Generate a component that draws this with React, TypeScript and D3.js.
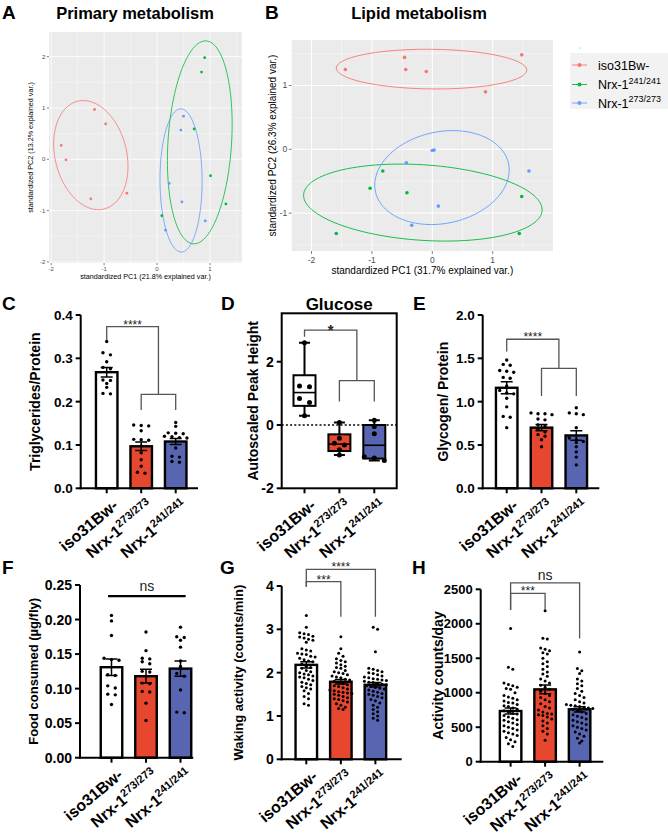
import React from 'react';
import * as d3 from 'd3';

const FONT = "'Liberation Sans', Arial, Helvetica, sans-serif";

// ---------------- PCA panels (A, B) ----------------
const pcaBase = ['iso31Bw-', 'Nrx-1', 'Nrx-1'];
const pcaSup = ['', '241/241', '273/273'];
const pcaColors = ['#F8766D', '#00BA38', '#619CFF'];

const primaryIso = [[-1.81, 0.27], [-1.72, -0.01], [-1.18, 0.97], [-0.97, 0.69], [-1.25, -0.77], [-0.57, -0.66]];
const primary241 = [[0.90, 1.98], [0.84, 1.70], [0.70, 0.59], [1.01, -0.32], [1.30, -0.87], [0.09, -1.10]];
const primary273 = [[0.50, 0.84], [0.45, 0.57], [0.47, -0.83], [0.91, -1.20], [0.16, -1.38], [0.23, -0.47]];

const lipidIso = [[-1.44, 1.25], [-0.46, 1.44], [-0.44, 1.25], [-0.10, 1.22], [1.48, 1.48], [0.88, 0.90]];
const lipid241 = [[-0.82, -0.34], [-1.03, -0.61], [-0.42, -0.68], [-1.59, -1.32], [1.48, -0.74], [1.44, -1.32]];
const lipid273 = [[0.0, -0.02], [0.03, -0.01], [-0.43, -0.21], [0.10, -0.89], [-0.34, -1.19], [1.60, -0.34]];

const pcaTicks = [-2, -1, 0, 1, 2];
const pcaMinor = [-1.5, -0.5, 0.5, 1.5];

// ---------------- bottom panels ----------------
const groupBase = ['iso31Bw-', 'Nrx-1', 'Nrx-1'];
const groupSup = ['', '273/273', '241/241'];
const groupFill = ['#FFFFFF', '#E8472F', '#5866B2'];

// C: Triglycerides/Protein
const trigIso = [0.339, 0.313, 0.308, 0.292, 0.279, 0.276, 0.250, 0.249, 0.242, 0.233, 0.219, 0.218];
const trigRed = [0.146, 0.145, 0.144, 0.133, 0.113, 0.112, 0.111, 0.098, 0.082, 0.066, 0.051, 0.037, 0.035];
const trigBlue = [0.152, 0.143, 0.128, 0.127, 0.126, 0.120, 0.119, 0.117, 0.116, 0.093, 0.074, 0.072, 0.062, 0.060];
const trigMean = [0.268, 0.097, 0.108];
const trigSem = [0.011, 0.010, 0.007];
const trigTicks = [0, 0.1, 0.2, 0.3, 0.4];

// D: Glucose (box plot)
const glucIso = [2.6, 1.23, 1.21, 0.84, 0.71, 0.29];
const glucRed = [0.08, -0.42, -0.58, -0.63, -0.78, -0.95];
const glucBlue = [0.15, -0.05, -0.28, -1.0, -1.04, -1.12];
const glucTicks = [-2, 0, 2];

// E: Glycogen/ Protein
const glycIso = [1.48, 1.43, 1.42, 1.36, 1.35, 1.34, 1.28, 1.27, 1.18, 1.13, 1.10, 1.09, 1.04, 0.94, 0.83, 0.82, 0.70];
const glycRed = [0.87, 0.86, 0.86, 0.85, 0.80, 0.79, 0.73, 0.72, 0.68, 0.65, 0.62, 0.60, 0.56, 0.48];
const glycBlue = [0.93, 0.87, 0.86, 0.85, 0.70, 0.58, 0.56, 0.54, 0.53, 0.48, 0.42, 0.36, 0.27];
const glycMean = [1.16, 0.70, 0.61];
const glycSem = [0.07, 0.035, 0.055];
const glycTicks = [0, 0.5, 1.0, 1.5, 2.0];

// F: Food consumed
const foodIso = [0.206, 0.198, 0.177, 0.144, 0.142, 0.141, 0.120, 0.119, 0.104, 0.101, 0.092, 0.091, 0.077];
const foodRed = [0.182, 0.155, 0.144, 0.143, 0.139, 0.136, 0.125, 0.124, 0.108, 0.107, 0.096, 0.095, 0.079, 0.054];
const foodBlue = [0.189, 0.175, 0.174, 0.170, 0.160, 0.140, 0.132, 0.122, 0.118, 0.098, 0.066, 0.065];
const foodMean = [0.131, 0.118, 0.129];
const foodSem = [0.012, 0.010, 0.011];
const foodTicks = [0, 0.05, 0.10, 0.15, 0.20, 0.25];

// G: Waking activity
const wakeIso = [3.32, 3.05, 2.92, 2.90, 2.88, 2.84, 2.82, 2.80, 2.77, 2.75, 2.70, 2.55, 2.52, 2.50, 2.45, 2.43, 2.42, 2.38, 2.36, 2.33, 2.30, 2.27, 2.25, 2.20, 2.15, 2.12, 2.10, 2.05, 2.02, 2.00, 1.97, 1.95, 1.92, 1.90, 1.88, 1.85, 1.82, 1.78, 1.75, 1.72, 1.68, 1.65, 1.62, 1.58, 1.52, 1.45, 1.40, 1.28, 1.25];
const wakeRed = [2.83, 2.55, 2.45, 2.38, 2.32, 2.28, 2.25, 2.22, 2.18, 2.15, 2.12, 2.10, 2.05, 2.02, 2.00, 1.98, 1.95, 1.92, 1.90, 1.88, 1.85, 1.83, 1.80, 1.78, 1.75, 1.72, 1.70, 1.68, 1.65, 1.62, 1.60, 1.58, 1.56, 1.55, 1.53, 1.52, 1.50, 1.48, 1.45, 1.42, 1.40, 1.38, 1.35, 1.32, 1.28, 1.25, 1.20, 1.17, 1.15];
const wakeBlue = [3.05, 3.00, 2.48, 2.10, 2.08, 2.05, 2.02, 2.00, 1.98, 1.95, 1.92, 1.90, 1.88, 1.86, 1.85, 1.83, 1.82, 1.80, 1.78, 1.77, 1.75, 1.73, 1.72, 1.70, 1.68, 1.66, 1.64, 1.62, 1.60, 1.57, 1.55, 1.52, 1.50, 1.48, 1.45, 1.42, 1.38, 1.35, 1.30, 1.25, 1.20, 1.15, 1.10, 1.05, 1.00, 0.95, 0.90];
const wakeMean = [2.18, 1.79, 1.72];
const wakeSem = [0.07, 0.05, 0.05];
const wakeTicks = [0, 1, 2, 3, 4];

// H: Activity counts/day
const actIso = [1930, 1370, 1340, 1140, 1120, 1100, 1080, 1060, 1050, 1000, 960, 940, 920, 900, 880, 860, 850, 830, 810, 800, 780, 760, 740, 720, 700, 690, 670, 650, 630, 610, 600, 580, 560, 540, 520, 500, 480, 460, 440, 420, 400, 380, 350, 320, 290, 260, 220];
const actRed = [2190, 1790, 1780, 1650, 1630, 1610, 1580, 1560, 1500, 1450, 1420, 1380, 1340, 1300, 1270, 1240, 1200, 1170, 1140, 1110, 1080, 1050, 1020, 990, 960, 930, 900, 870, 840, 800, 780, 750, 720, 700, 690, 680, 670, 650, 620, 590, 560, 520, 480, 440, 400, 310];
const actBlue = [1590, 1350, 1320, 1280, 1200, 1170, 1130, 1100, 1060, 1020, 990, 960, 930, 900, 870, 850, 830, 820, 810, 800, 790, 780, 770, 760, 740, 720, 700, 680, 660, 640, 620, 600, 580, 560, 540, 520, 500, 480, 460, 430, 400, 370, 340, 300, 270];
const actMean = [735, 1049, 760];
const actSem = [45, 62, 38];
const actTicks = [0, 500, 1000, 1500, 2000, 2500];

// ---------------- helpers ----------------
function ellipseRing(pts: number[][]) {
  const n = pts.length;
  const mx = d3.mean(pts, (p) => p[0]) as number;
  const my = d3.mean(pts, (p) => p[1]) as number;
  let sxx = 0, syy = 0, sxy = 0;
  pts.forEach((p) => {
    sxx += (p[0] - mx) ** 2;
    syy += (p[1] - my) ** 2;
    sxy += (p[0] - mx) * (p[1] - my);
  });
  sxx /= n - 1; syy /= n - 1; sxy /= n - 1;
  const a = Math.sqrt(sxx);
  const b = sxy / a;
  const c = Math.sqrt(Math.max(syy - b * b, 1e-9));
  const ed = Math.sqrt(-2 * Math.log(1 - 0.68));
  return d3.range(121).map((i) => {
    const t = (2 * Math.PI * i) / 120;
    const u = Math.cos(t), v = Math.sin(t);
    return [mx + ed * u * a, my + ed * (u * b + v * c)];
  });
}

function swarmOffsets(vals: number[], y: (v: number) => number, rowH: number, gap: number) {
  const idx = vals.map((_, i) => i).sort((a, b) => vals[b] - vals[a]);
  const out = new Array(vals.length).fill(0);
  let row: number[] = [];
  let rowStart = -Infinity;
  const flush = () => {
    row.forEach((id, k) => { out[id] = (k - (row.length - 1) / 2) * gap; });
  };
  for (const id of idx) {
    const py = y(vals[id]);
    if (row.length && py - rowStart > rowH) { flush(); row = []; }
    if (!row.length) rowStart = py;
    row.push(id);
  }
  flush();
  return out;
}

function quart(sorted: number[], p: number) {
  const n = sorted.length;
  const pos = p * (n + 1);
  if (pos <= 1) return sorted[0];
  if (pos >= n) return sorted[n - 1];
  const lo = Math.floor(pos);
  const f = pos - lo;
  return sorted[lo - 1] + f * (sorted[lo] - sorted[lo - 1]);
}

// ---------------- PCA panel ----------------
function PcaPanel({ cfg, sets }: { cfg: any; sets: number[][][] }) {
  const xs = d3.scaleLinear().domain(cfg.xDomain).range([cfg.left, cfg.right]);
  const ys = d3.scaleLinear().domain(cfg.yDomain).range([cfg.bottom, cfg.top]);
  const inX = (v: number) => v >= cfg.xDomain[0] && v <= cfg.xDomain[1];
  const inY = (v: number) => v >= cfg.yDomain[0] && v <= cfg.yDomain[1];
  const line = d3.line<number[]>().x((d) => xs(d[0])).y((d) => ys(d[1]));
  return (
    <g fontFamily={FONT}>
      <rect x={cfg.left} y={cfg.top} width={cfg.right - cfg.left} height={cfg.bottom - cfg.top} fill="#EBEBEB" />
      {pcaMinor.filter(inX).map((v) => (
        <line key={'mx' + v} x1={xs(v)} x2={xs(v)} y1={cfg.top} y2={cfg.bottom} stroke="#fff" strokeWidth={cfg.minorW} />
      ))}
      {pcaMinor.filter(inY).map((v) => (
        <line key={'my' + v} y1={ys(v)} y2={ys(v)} x1={cfg.left} x2={cfg.right} stroke="#fff" strokeWidth={cfg.minorW} />
      ))}
      {pcaTicks.filter(inX).map((v) => (
        <line key={'Mx' + v} x1={xs(v)} x2={xs(v)} y1={cfg.top} y2={cfg.bottom} stroke="#fff" strokeWidth={cfg.majorW} />
      ))}
      {pcaTicks.filter(inY).map((v) => (
        <line key={'My' + v} y1={ys(v)} y2={ys(v)} x1={cfg.left} x2={cfg.right} stroke="#fff" strokeWidth={cfg.majorW} />
      ))}
      {sets.map((pts, i) => (
        <path key={'e' + i} d={line(ellipseRing(pts)) as string} fill="none" stroke={pcaColors[i]} strokeWidth={cfg.ellW} />
      ))}
      {sets.map((pts, i) =>
        pts.map((p, k) => <circle key={'p' + i + '-' + k} cx={xs(p[0])} cy={ys(p[1])} r={cfg.ptR} fill={pcaColors[i]} />)
      )}
      {pcaTicks.filter(inX).map((v) => (
        <g key={'tx' + v}>
          <line x1={xs(v)} x2={xs(v)} y1={cfg.bottom} y2={cfg.bottom + cfg.tickLen} stroke="#333" strokeWidth={0.6} />
          <text x={xs(v)} y={cfg.bottom + cfg.tickLen + cfg.tickSize} textAnchor="middle" fontSize={cfg.tickSize} fill="#4D4D4D">{String(v)}</text>
        </g>
      ))}
      {pcaTicks.filter(inY).map((v) => (
        <g key={'ty' + v}>
          <line x1={cfg.left - cfg.tickLen} x2={cfg.left} y1={ys(v)} y2={ys(v)} stroke="#333" strokeWidth={0.6} />
          <text x={cfg.left - cfg.tickLen - 1.5} y={ys(v)} dy="0.35em" textAnchor="end" fontSize={cfg.tickSize} fill="#4D4D4D">{String(v)}</text>
        </g>
      ))}
      <text x={(cfg.left + cfg.right) / 2} y={cfg.xTitleY} textAnchor="middle" fontSize={cfg.titleSize} fill="#000">{cfg.xTitle}</text>
      <text transform={`translate(${cfg.yTitleX},${(cfg.top + cfg.bottom) / 2}) rotate(-90)`} textAnchor="middle" fontSize={cfg.titleSize} fill="#000">{cfg.yTitle}</text>
      <text x={cfg.headX} y={19} textAnchor="middle" fontSize={16.5} fontWeight="bold">{cfg.head}</text>
      <text x={cfg.letterX} y={19} fontSize={19} fontWeight="bold">{cfg.letter}</text>
    </g>
  );
}

function Legend() {
  const rows = [65, 84.5, 103];
  return (
    <g fontFamily={FONT}>
      <rect x={570} y={53} width={98} height={56} fill="#F2F2F2" />
      <circle cx={580} cy={48} r={0.6} fill="#999" />
      {pcaBase.map((b, i) => (
        <g key={i}>
          <line x1={572} x2={587} y1={rows[i]} y2={rows[i]} stroke={pcaColors[i]} strokeWidth={0.9} />
          <circle cx={579.5} cy={rows[i]} r={2} fill={pcaColors[i]} />
          <text x={598} y={rows[i]} dy="0.36em" fontSize={12.5} fill="#000">
            <tspan>{b}</tspan>
            {pcaSup[i] ? <tspan fontSize={9} dy={-5.5}>{pcaSup[i]}</tspan> : null}
          </text>
        </g>
      ))}
    </g>
  );
}

// ---------------- shared pieces ----------------
function XLabels({ centers, yBase }: { centers: number[]; yBase: number }) {
  return (
    <g>
      {groupBase.map((b, i) => (
        <text key={i} transform={`translate(${centers[i] + 5},${yBase + 10}) rotate(-40)`} dy="0.72em" textAnchor="end" fontSize={16} fontWeight="bold" fontFamily={FONT}>
          <tspan>{b}</tspan>
          {groupSup[i] ? <tspan fontSize={11} dy={-6}>{groupSup[i]}</tspan> : null}
        </text>
      ))}
    </g>
  );
}

function Brackets({ list, cx, y }: { list: any[]; cx: (t: number) => number; y: (v: number) => number }) {
  return (
    <g>
      {list.map((b, i) => {
        const xa = cx(b.a), xb = cx(b.b), yy = y(b.y);
        return (
          <g key={i}>
            <path d={`M${xa},${y(b.la)}V${yy}H${xb}V${y(b.lb)}`} fill="none" stroke={b.thick ? '#000' : '#555'} strokeWidth={b.thick ? 2.2 : 1.3} />
            {b.label ? (
              <text x={(xa + xb) / 2 + (b.dx || 0)} y={yy - b.lift} textAnchor="middle" fontSize={b.size} fontWeight={b.bold ? 'bold' : 'normal'} fill="#222" fontFamily={FONT}>{b.label}</text>
            ) : null}
          </g>
        );
      })}
    </g>
  );
}

function YAxisLabels({ cfg, y }: { cfg: any; y: (v: number) => number }) {
  return (
    <g>
      {cfg.ticks.map((t: number) => (
        <g key={t}>
          <line x1={cfg.x0 - 5} x2={cfg.x0} y1={y(t)} y2={y(t)} stroke="#000" strokeWidth={2} />
          <text x={cfg.x0 - 8} y={y(t)} dy="0.36em" textAnchor="end" fontSize={cfg.tickSize || 13.5} fontWeight="bold" fontFamily={FONT}>{cfg.fmt(t)}</text>
        </g>
      ))}
      <text transform={`translate(${cfg.yLabelX},${(cfg.yTop + cfg.yBottom) / 2}) rotate(-90)`} dy="0.36em" textAnchor="middle" fontSize={cfg.yLabelSize} fontWeight="bold" fontFamily={FONT}>{cfg.yLabel}</text>
      <text x={cfg.letterX} y={cfg.letterY} fontSize={19} fontWeight="bold" fontFamily={FONT}>{cfg.letter}</text>
    </g>
  );
}

// ---------------- bar panel ----------------
function BarPanel({ cfg }: { cfg: any }) {
  const y = d3.scaleLinear().domain(cfg.domain).range([cfg.yBottom, cfg.yTop]);
  const x = d3.scalePoint<number>().domain([0, 1, 2]).range([cfg.c0, cfg.c1]);
  const cx = (t: number) => cfg.c0 + (t * (cfg.c1 - cfg.c0)) / 2;
  const bw = 21.5;
  const cap = 6;
  const centers = [0, 1, 2].map((i) => x(i) as number);
  return (
    <g>
      {cfg.means.map((m: number, i: number) => (
        <rect key={'b' + i} x={centers[i] - bw / 2} y={y(m)} width={bw} height={y(0) - y(m)} fill={groupFill[i]} stroke="#000" strokeWidth={2.4} />
      ))}
      {cfg.values.map((vals: number[], i: number) => {
        const off = swarmOffsets(vals, y, cfg.rowH, cfg.gap);
        return vals.map((v, k) => <circle key={'d' + i + '-' + k} cx={centers[i] + off[k]} cy={y(v)} r={cfg.dotR} fill="#000" />);
      })}
      {cfg.means.map((m: number, i: number) => {
        const hi = y(m + cfg.sems[i]), lo = y(m - cfg.sems[i]);
        return (
          <path key={'e' + i} d={`M${centers[i]},${lo}V${hi}M${centers[i] - cap},${hi}H${centers[i] + cap}M${centers[i] - cap},${lo}H${centers[i] + cap}`} stroke="#000" strokeWidth={1.5} fill="none" />
        );
      })}
      <line x1={cfg.x0} x2={cfg.x0} y1={cfg.yBottom + 1} y2={cfg.yTop} stroke="#000" strokeWidth={2} />
      <line x1={cfg.x0 - 1} x2={cfg.x1} y1={cfg.yBottom} y2={cfg.yBottom} stroke="#000" strokeWidth={2} />
      {centers.map((c, i) => (
        <line key={'xt' + i} x1={c} x2={c} y1={cfg.yBottom} y2={cfg.yBottom + 5} stroke="#000" strokeWidth={2} />
      ))}
      <YAxisLabels cfg={cfg} y={y} />
      <XLabels centers={centers} yBase={cfg.yBottom} />
      <Brackets list={cfg.brackets} cx={cx} y={y} />
    </g>
  );
}

// ---------------- box panel (D) ----------------
function BoxPanel({ cfg }: { cfg: any }) {
  const y = d3.scaleLinear().domain(cfg.domain).range([cfg.yBottom, cfg.yTop]);
  const x = d3.scalePoint<number>().domain([0, 1, 2]).range([cfg.c0, cfg.c1]);
  const cx = (t: number) => cfg.c0 + (t * (cfg.c1 - cfg.c0)) / 2;
  const centers = [0, 1, 2].map((i) => x(i) as number);
  const bw = 22;
  const cap = 5.5;
  return (
    <g>
      <line x1={cfg.x0} x2={cfg.x1} y1={y(0)} y2={y(0)} stroke="#000" strokeWidth={1.6} strokeDasharray="2,2.2" />
      {cfg.values.map((vals: number[], i: number) => {
        const s = [...vals].sort((a, b) => a - b);
        const q1 = quart(s, 0.25), q2 = quart(s, 0.5), q3 = quart(s, 0.75);
        const mn = s[0], mx = s[s.length - 1];
        const c = centers[i];
        return (
          <g key={'bx' + i}>
            <path d={`M${c},${y(mx)}V${y(q3)}M${c},${y(q1)}V${y(mn)}M${c - cap},${y(mx)}H${c + cap}M${c - cap},${y(mn)}H${c + cap}`} stroke="#000" strokeWidth={2} fill="none" />
            <rect x={c - bw / 2} y={y(q3)} width={bw} height={y(q1) - y(q3)} fill={groupFill[i]} stroke="#000" strokeWidth={2} />
            <line x1={c - bw / 2} x2={c + bw / 2} y1={y(q2)} y2={y(q2)} stroke="#000" strokeWidth={1.6} />
          </g>
        );
      })}
      {cfg.values.map((vals: number[], i: number) => {
        const off = swarmOffsets(vals, y, cfg.rowH, cfg.gap);
        return vals.map((v, k) => <circle key={'d' + i + '-' + k} cx={centers[i] + off[k]} cy={y(v)} r={cfg.dotR} fill="#000" />);
      })}
      <rect x={cfg.x0} y={cfg.yTop} width={cfg.x1 - cfg.x0} height={cfg.yBottom - cfg.yTop} fill="none" stroke="#000" strokeWidth={2} />
      {centers.map((c, i) => (
        <line key={'xt' + i} x1={c} x2={c} y1={cfg.yBottom} y2={cfg.yBottom + 5} stroke="#000" strokeWidth={2} />
      ))}
      <YAxisLabels cfg={cfg} y={y} />
      <XLabels centers={centers} yBase={cfg.yBottom} />
      <Brackets list={cfg.brackets} cx={cx} y={y} />
      <text x={(cfg.x0 + cfg.x1) / 2} y={310} textAnchor="middle" fontSize={17} fontWeight="bold" fontFamily={FONT}>{cfg.title}</text>
    </g>
  );
}

// ---------------- configs ----------------
const f1 = d3.format('.1f');
const f2 = d3.format('.2f');
const fi = (v: number) => String(v);

const panelA = {
  left: 49, right: 242, top: 32, bottom: 263, xDomain: [-2.04, 1.604], yDomain: [-2.02, 2.48],
  minorW: 0.35, majorW: 0.8, ellW: 0.8, ptR: 1.4, tickLen: 2.2, tickSize: 6, titleSize: 7.2,
  xTitleY: 279, yTitleX: 33, xTitle: 'standardized PC1 (21.8% explained var.)', yTitle: 'standardized PC2 (13.2% explained var.)',
  head: 'Primary metabolism', headX: 135, letter: 'A', letterX: 2,
};
const panelB = {
  left: 291.7, right: 553, top: 40, bottom: 251, xDomain: [-2.328, 1.998], yDomain: [-1.594, 1.713],
  minorW: 0.45, majorW: 1, ellW: 0.9, ptR: 1.8, tickLen: 3, tickSize: 8.5, titleSize: 10,
  xTitleY: 273.5, yTitleX: 276, xTitle: 'standardized PC1 (31.7% explained var.)', yTitle: 'standardized PC2 (26.3% explained var.)',
  head: 'Lipid metabolism', headX: 419, letter: 'B', letterX: 265,
};

const panelC = {
  x0: 80.7, x1: 198, c0: 106.7, c1: 175.7, yTop: 315, yBottom: 488.3, domain: [0, 0.4], ticks: trigTicks, fmt: f1,
  values: [trigIso, trigRed, trigBlue], means: trigMean, sems: trigSem, dotR: 1.7, rowH: 3, gap: 7.5,
  yLabel: 'Triglycerides/Protein', yLabelX: 35, yLabelSize: 14, letter: 'C', letterX: 2, letterY: 310,
  brackets: [
    { a: 0, b: 1.5, y: 0.373, la: 0.342, lb: 0.217, label: '****', size: 12, lift: -2 },
    { a: 1, b: 2, y: 0.217, la: 0.181, lb: 0.181, label: '' },
  ],
};
const panelD = {
  x0: 281.7, x1: 396.7, c0: 304.5, c1: 374.3, yTop: 313.3, yBottom: 488.3, domain: [-2, 3.53], ticks: glucTicks, fmt: fi,
  values: [glucIso, glucRed, glucBlue], dotR: 2.5, rowH: 5, gap: 10, tickSize: 14,
  yLabel: 'Autoscaled Peak Height', yLabelX: 253, yLabelSize: 14, letter: 'D', letterX: 221, letterY: 310, title: 'Glucose',
  brackets: [
    { a: 0, b: 1.5, y: 3.0, la: 2.79, lb: 1.4, label: '*', size: 15, bold: true, lift: -5 },
    { a: 1, b: 2, y: 1.4, la: 0.74, lb: 0.74, label: '' },
  ],
};
const panelE = {
  x0: 482.7, x1: 599.3, c0: 506.7, c1: 576.3, yTop: 315, yBottom: 488.3, domain: [0, 2], ticks: glycTicks, fmt: f1,
  values: [glycIso, glycRed, glycBlue], means: glycMean, sems: glycSem, dotR: 1.7, rowH: 3.5, gap: 7,
  yLabel: 'Glycogen/ Protein', yLabelX: 443, yLabelSize: 14, letter: 'E', letterX: 413, letterY: 310,
  brackets: [
    { a: 0, b: 1.5, y: 1.72, la: 1.58, lb: 1.385, label: '****', size: 12, lift: -2 },
    { a: 1, b: 2, y: 1.385, la: 1.065, lb: 1.065, label: '' },
  ],
};
const panelF = {
  x0: 80, x1: 193.3, c0: 111.5, c1: 180.5, yTop: 585, yBottom: 757.7, domain: [0, 0.25], ticks: foodTicks, fmt: f2,
  values: [foodIso, foodRed, foodBlue], means: foodMean, sems: foodSem, dotR: 1.7, rowH: 3, gap: 7.5, tickSize: 14,
  yLabel: 'Food consumed (\u00b5g/fly)', yLabelX: 33, yLabelSize: 13, letter: 'F', letterX: 2, letterY: 574,
  brackets: [
    { a: -0.1, b: 2.15, y: 0.234, la: 0.234, lb: 0.234, label: 'ns', size: 14, lift: 5, thick: true },
  ],
};
const panelG = {
  x0: 281.7, x1: 401.7, c0: 306.3, c1: 375.4, yTop: 586, yBottom: 759.3, domain: [0, 4], ticks: wakeTicks, fmt: fi,
  values: [wakeIso, wakeRed, wakeBlue], means: wakeMean, sems: wakeSem, dotR: 1.5, rowH: 4.2, gap: 4.4, tickSize: 14,
  yLabel: 'Waking activity (counts/min)', yLabelX: 238, yLabelSize: 13, letter: 'G', letterX: 220, letterY: 574,
  brackets: [
    { a: 0, b: 2, y: 4.385, la: 3.98, lb: 3.29, label: '****', size: 12, lift: -2 },
    { a: 0, b: 1, y: 4.10, la: 3.98, lb: 3.29, label: '***', size: 12, lift: -2 },
  ],
};
const panelH = {
  x0: 480.7, x1: 603.3, c0: 510.6, c1: 579.6, yTop: 589.3, yBottom: 761.7, domain: [0, 2500], ticks: actTicks, fmt: fi,
  values: [actIso, actRed, actBlue], means: actMean, sems: actSem, dotR: 1.5, rowH: 4.2, gap: 4.4, tickSize: 13,
  yLabel: 'Activity counts/day', yLabelX: 438, yLabelSize: 14, letter: 'H', letterX: 412, letterY: 574,
  brackets: [
    { a: 0, b: 2, y: 2594, la: 2199, lb: 1788, label: 'ns', size: 14, lift: 3 },
    { a: 0, b: 1, y: 2441, la: 2199, lb: 2199, label: '***', size: 12, lift: -2 },
  ],
};

export default function App() {
  return (
    <svg width={668} height={834} viewBox="0 0 668 834" style={{ position: 'absolute', left: 0, top: 0, background: '#fff' }}>
      <rect x={0} y={0} width={668} height={834} fill="#fff" />
      <PcaPanel cfg={panelA} sets={[primaryIso, primary241, primary273]} />
      <PcaPanel cfg={panelB} sets={[lipidIso, lipid241, lipid273]} />
      <Legend />
      <BarPanel cfg={panelC} />
      <BoxPanel cfg={panelD} />
      <BarPanel cfg={panelE} />
      <BarPanel cfg={panelF} />
      <BarPanel cfg={panelG} />
      <BarPanel cfg={panelH} />
    </svg>
  );
}
